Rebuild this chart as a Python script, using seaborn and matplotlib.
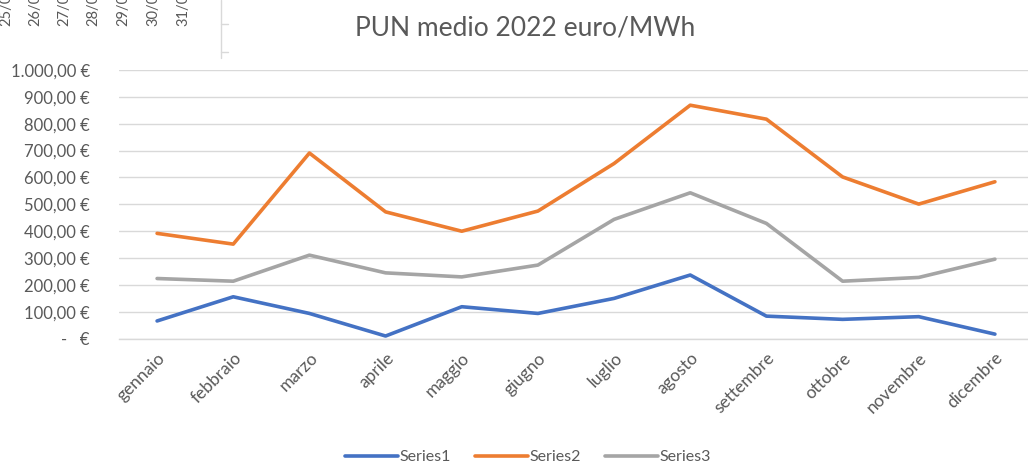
import matplotlib
matplotlib.use("Agg")
import matplotlib.pyplot as plt
from matplotlib.ticker import FuncFormatter, MultipleLocator
import seaborn as sns
import pandas as pd

# values (euro/MWh)
months = ["gennaio", "febbraio", "marzo", "aprile", "maggio", "giugno",
          "luglio", "agosto", "settembre", "ottobre", "novembre", "dicembre"]
series1 = [66, 156, 94, 10, 119, 94, 150, 237, 84, 72, 82, 17]
series2 = [392, 352, 691, 472, 400, 475, 652, 869, 817, 602, 501, 584]
series3 = [224, 214, 311, 245, 230, 274, 444, 543, 429, 214, 228, 296]
series_names = ["Series1", "Series2", "Series3"]
colors = ["#4472C4", "#ED7D31", "#A5A5A5"]
# leftover date labels of another chart, cut off at the top
stray_labels = ["25/07", "26/07", "27/07", "28/07", "29/07", "30/07", "31/07"]

df = pd.DataFrame({
    "x": list(range(len(months))) * 3,
    "value": series1 + series2 + series3,
    "serie": [n for n in series_names for _ in months],
})

sns.set_theme(style="white")
plt.rcParams["font.family"] = ["Lato", "DejaVu Sans"]
txt = "#595959"
grid = "#D9D9D9"

fig = plt.figure(figsize=(10.28, 4.76), dpi=100)
ax = fig.add_axes([119 / 1028, 137.3 / 476, 914 / 1028, 268.7 / 476])

sns.lineplot(data=df, x="x", y="value", hue="serie", palette=colors,
             linewidth=2.6, ax=ax, legend=False)

ax.set_xlim(-0.5, len(months) - 0.5)
ax.set_ylim(0, 1000)
ax.yaxis.set_major_locator(MultipleLocator(100))
ax.yaxis.grid(True, color=grid, linewidth=1)
ax.set_axisbelow(True)


def euro(v, pos):
    if v == 0:
        return "-   €"
    s = f"{v:,.2f}".replace(",", "X").replace(".", ",").replace("X", ".")
    return s + " €"


ax.yaxis.set_major_formatter(FuncFormatter(euro))
ax.set_xticks(range(len(months)))
ax.set_xticklabels(months, rotation=45, ha="right", rotation_mode="anchor")
ax.tick_params(axis="x", length=0, pad=8, labelsize=12.5, labelcolor=txt)
ax.tick_params(axis="y", length=0, pad=21, labelsize=12, labelcolor=txt)
ax.set_xlabel("")
ax.set_ylabel("")
for side in ["top", "right", "left"]:
    ax.spines[side].set_visible(False)
ax.spines["bottom"].set_color(grid)
ax.spines["bottom"].set_linewidth(1)

fig.text(525 / 1028, 1 - 28 / 476, "PUN medio 2022 euro/MWh", ha="center",
         va="center", fontsize=19, color=txt)

handles = [plt.Line2D([], [], color=c, linewidth=2.6) for c in colors]
fig.legend(handles, series_names, loc="center", bbox_to_anchor=(528 / 1028, 1 - 457 / 476),
           ncol=3, frameon=False, fontsize=11.5, labelcolor=txt, handlelength=3.3,
           handletextpad=0.1, columnspacing=1.5)

# remains of the neighbouring chart in the corner
xs = [6, 35, 64, 93, 123, 153, 183]
for xp, lab in zip(xs, stray_labels):
    fig.text(xp / 1028, 1 - 26 / 476, lab, rotation=90, ha="center", va="bottom",
             fontsize=10.5, color=txt)
fig.add_artist(plt.Line2D([220.7 / 1028, 220.7 / 1028], [1, 1 - 58 / 476],
                          color=grid, linewidth=1, transform=fig.transFigure))
for yp in [24, 52]:
    fig.add_artist(plt.Line2D([220.7 / 1028, 228 / 1028], [1 - yp / 476, 1 - yp / 476],
                              color=grid, linewidth=1, transform=fig.transFigure))

fig.savefig("out.png", dpi=100)
